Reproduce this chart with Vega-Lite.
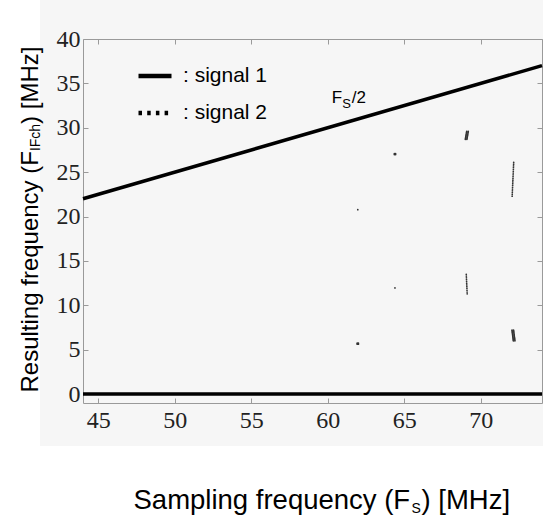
{
  "$schema": "https://vega.github.io/schema/vega-lite/v6.json",
  "width": 459,
  "height": 364,
  "autosize": {"type": "none"},
  "padding": {"left": 83, "top": 39, "right": 1, "bottom": 112},
  "background": "white",
  "config": {
    "view": {"fill": "#f6f6f6", "stroke": "#f6f6f6", "strokeWidth": 86},
    "axis": {
      "grid": false,
      "domainColor": "#9a9a9a",
      "tickColor": "#9a9a9a",
      "labelFont": "Times New Roman",
      "labelFontSize": 24,
      "labelColor": "#222",
      "titleFont": "Liberation Sans",
      "titleColor": "#000",
      "titleFontWeight": "normal"
    }
  },
  "datasets": {
    "zero": [
      {"fs": 44, "f": 0, "signal": "signal 1"},
      {"fs": 74, "f": 0, "signal": "signal 1"}
    ],
    "half": [
      {"fs": 44, "f": 22},
      {"fs": 74, "f": 37}
    ],
    "annot": [
      {"fs": 60.26, "f": 32.77}
    ],
    "points": [
      {"fs": 69.08, "f": 29.6}, {"fs": 69.18, "f": 29.6},
      {"fs": 69.07, "f": 29.5}, {"fs": 69.17, "f": 29.5},
      {"fs": 69.06, "f": 29.4}, {"fs": 69.16, "f": 29.4},
      {"fs": 69.05, "f": 29.3}, {"fs": 69.15, "f": 29.3},
      {"fs": 69.04, "f": 29.2}, {"fs": 69.14, "f": 29.2},
      {"fs": 69.03, "f": 29.1}, {"fs": 69.13, "f": 29.1},
      {"fs": 69.02, "f": 29.0}, {"fs": 69.12, "f": 29.0},
      {"fs": 69.01, "f": 28.9}, {"fs": 69.11, "f": 28.9},
      {"fs": 69.00, "f": 28.8}, {"fs": 69.10, "f": 28.8},
      {"fs": 68.99, "f": 28.7}, {"fs": 69.09, "f": 28.7},
      {"fs": 64.35, "f": 26.98}, {"fs": 64.43, "f": 26.98},
      {"fs": 64.35, "f": 27.10}, {"fs": 64.43, "f": 27.10},
      {"fs": 64.39, "f": 27.04},
      {"fs": 61.96, "f": 20.77},
      {"fs": 72.150, "f": 26.1}, {"fs": 72.145, "f": 25.9},
      {"fs": 72.139, "f": 25.7}, {"fs": 72.134, "f": 25.5},
      {"fs": 72.129, "f": 25.3}, {"fs": 72.124, "f": 25.1},
      {"fs": 72.118, "f": 24.9}, {"fs": 72.113, "f": 24.7},
      {"fs": 72.108, "f": 24.5}, {"fs": 72.103, "f": 24.3},
      {"fs": 72.097, "f": 24.1}, {"fs": 72.092, "f": 23.9},
      {"fs": 72.087, "f": 23.7}, {"fs": 72.082, "f": 23.5},
      {"fs": 72.076, "f": 23.3}, {"fs": 72.071, "f": 23.1},
      {"fs": 72.066, "f": 22.9}, {"fs": 72.061, "f": 22.7},
      {"fs": 72.055, "f": 22.5}, {"fs": 72.050, "f": 22.3},
      {"fs": 69.050, "f": 13.5}, {"fs": 69.055, "f": 13.3},
      {"fs": 69.061, "f": 13.1}, {"fs": 69.066, "f": 12.9},
      {"fs": 69.072, "f": 12.7}, {"fs": 69.077, "f": 12.5},
      {"fs": 69.083, "f": 12.3}, {"fs": 69.088, "f": 12.1},
      {"fs": 69.094, "f": 11.9}, {"fs": 69.099, "f": 11.7},
      {"fs": 69.105, "f": 11.5}, {"fs": 69.110, "f": 11.3},
      {"fs": 64.39, "f": 11.96},
      {"fs": 72.04, "f": 7.2}, {"fs": 72.14, "f": 7.2},
      {"fs": 72.05, "f": 7.1}, {"fs": 72.15, "f": 7.1},
      {"fs": 72.055, "f": 7.0}, {"fs": 72.155, "f": 7.0},
      {"fs": 72.06, "f": 6.9}, {"fs": 72.16, "f": 6.9},
      {"fs": 72.07, "f": 6.8}, {"fs": 72.17, "f": 6.8},
      {"fs": 72.08, "f": 6.7}, {"fs": 72.18, "f": 6.7},
      {"fs": 72.085, "f": 6.6}, {"fs": 72.185, "f": 6.6},
      {"fs": 72.09, "f": 6.5}, {"fs": 72.19, "f": 6.5},
      {"fs": 72.10, "f": 6.4}, {"fs": 72.20, "f": 6.4},
      {"fs": 72.11, "f": 6.3}, {"fs": 72.21, "f": 6.3},
      {"fs": 72.115, "f": 6.2}, {"fs": 72.215, "f": 6.2},
      {"fs": 72.12, "f": 6.1}, {"fs": 72.22, "f": 6.1},
      {"fs": 72.13, "f": 6.0}, {"fs": 72.23, "f": 6.0},
      {"fs": 61.92, "f": 5.62}, {"fs": 62.00, "f": 5.62},
      {"fs": 61.92, "f": 5.74}, {"fs": 62.00, "f": 5.74},
      {"fs": 61.96, "f": 5.68}
    ]
  },
  "resolve": {"axis": {"x": "independent", "y": "independent"}},
  "layer": [
    {
      "data": {"name": "zero"},
      "mark": {"type": "line", "strokeWidth": 3.5},
      "encoding": {
        "x": {
          "field": "fs", "type": "quantitative",
          "scale": {"domain": [44, 74], "nice": false, "zero": false},
          "axis": {
            "orient": "bottom", "values": [45, 50, 55, 60, 65, 70],
            "tickSize": -5, "labelPadding": 10,
            "labelFont": "Times New Roman", "labelFontSize": 24, "labelColor": "#222",
            "title": "Sampling frequency (F", "titleFont": "Liberation Sans", "titleFontSize": 27.5,
            "titleX": 50, "titleY": 105, "titleAlign": "left", "titleBaseline": "alphabetic"
          }
        },
        "y": {
          "field": "f", "type": "quantitative",
          "scale": {"domain": [-1, 40], "nice": false, "zero": false},
          "axis": {
            "orient": "left", "values": [0, 5, 10, 15, 20, 25, 30, 35, 40],
            "tickSize": -5, "labelPadding": 8,
            "labelFont": "Times New Roman", "labelFontSize": 24, "labelColor": "#222",
            "title": "Resulting frequency (F", "titleFont": "Liberation Sans", "titleFontSize": 24,
            "titleAngle": -90, "titleX": -46, "titleY": 353,
            "titleAlign": "left", "titleBaseline": "alphabetic"
          }
        },
        "color": {
          "field": "signal", "type": "nominal",
          "scale": {"domain": ["signal 1", "signal 2"], "range": ["#000000", "#000000"]},
          "legend": {
            "title": null, "orient": "none", "legendX": 53, "legendY": 18,
            "symbolType": "stroke", "symbolSize": 1089, "symbolStrokeWidth": 4.5,
            "labelFont": "Liberation Sans", "labelFontSize": 21, "labelColor": "#000",
            "labelExpr": "': ' + datum.label", "labelOffset": 9,
            "rowPadding": 8, "padding": 0
          }
        },
        "strokeDash": {
          "field": "signal", "type": "nominal",
          "scale": {"domain": ["signal 1", "signal 2"], "range": [[1, 0], [3.5, 5.2]]},
          "legend": {
            "title": null, "orient": "none", "legendX": 53, "legendY": 18,
            "symbolType": "stroke", "symbolSize": 1089, "symbolStrokeWidth": 4.5,
            "labelFont": "Liberation Sans", "labelFontSize": 21, "labelColor": "#000",
            "labelExpr": "': ' + datum.label", "labelOffset": 9,
            "rowPadding": 8, "padding": 0
          }
        }
      }
    },
    {
      "data": {"name": "half"},
      "mark": {"type": "line", "strokeWidth": 3.5, "color": "#000000"},
      "encoding": {
        "x": {"field": "fs", "type": "quantitative", "axis": null},
        "y": {"field": "f", "type": "quantitative", "axis": null}
      }
    },
    {
      "data": {"name": "points"},
      "mark": {"type": "circle", "size": 3, "color": "#333333", "opacity": 1},
      "encoding": {
        "x": {
          "field": "fs", "type": "quantitative",
          "axis": {"orient": "top", "values": [45, 50, 55, 60, 65, 70], "tickSize": -5, "labels": false, "title": null}
        },
        "y": {
          "field": "f", "type": "quantitative",
          "axis": {"orient": "right", "values": [0, 5, 10, 15, 20, 25, 30, 35, 40], "tickSize": -5, "labels": false, "title": null}
        }
      }
    },
    {
      "data": {"name": "annot"},
      "mark": {"type": "text", "text": "F", "align": "left", "baseline": "alphabetic", "font": "Liberation Sans", "fontSize": 17, "color": "#000"},
      "encoding": {
        "x": {
          "field": "fs", "type": "quantitative",
          "axis": {
            "orient": "bottom", "domain": false, "ticks": false, "labels": false,
            "title": "S", "titleFont": "Liberation Sans", "titleFontSize": 14,
            "titleX": 328, "titleY": 109, "titleAlign": "left", "titleBaseline": "alphabetic"
          }
        },
        "y": {
          "field": "f", "type": "quantitative",
          "axis": {
            "orient": "left", "domain": false, "ticks": false, "labels": false,
            "title": "IFch", "titleFont": "Liberation Sans", "titleFontSize": 14, "titleAngle": -90,
            "titleX": -43.5, "titleY": 111.6, "titleAlign": "left", "titleBaseline": "alphabetic"
          }
        }
      }
    },
    {
      "data": {"name": "annot"},
      "mark": {"type": "text", "text": "S", "align": "left", "baseline": "alphabetic", "font": "Liberation Sans", "fontSize": 13, "dx": 10.5, "dy": 4.7, "color": "#000"},
      "encoding": {
        "x": {
          "field": "fs", "type": "quantitative",
          "axis": {
            "orient": "bottom", "domain": false, "ticks": false, "labels": false,
            "title": ") [MHz]", "titleFont": "Liberation Sans", "titleFontSize": 27.5,
            "titleX": 338, "titleY": 105, "titleAlign": "left", "titleBaseline": "alphabetic"
          }
        },
        "y": {
          "field": "f", "type": "quantitative",
          "axis": {
            "orient": "left", "domain": false, "ticks": false, "labels": false,
            "title": ") [MHz]", "titleFont": "Liberation Sans", "titleFontSize": 24, "titleAngle": -90,
            "titleX": -46, "titleY": 84.4, "titleAlign": "left", "titleBaseline": "alphabetic"
          }
        }
      }
    },
    {
      "data": {"name": "annot"},
      "mark": {"type": "text", "text": "/2", "align": "left", "baseline": "alphabetic", "font": "Liberation Sans", "fontSize": 17, "dx": 20, "color": "#000"},
      "encoding": {
        "x": {"field": "fs", "type": "quantitative", "axis": null},
        "y": {"field": "f", "type": "quantitative", "axis": null}
      }
    }
  ]
}
